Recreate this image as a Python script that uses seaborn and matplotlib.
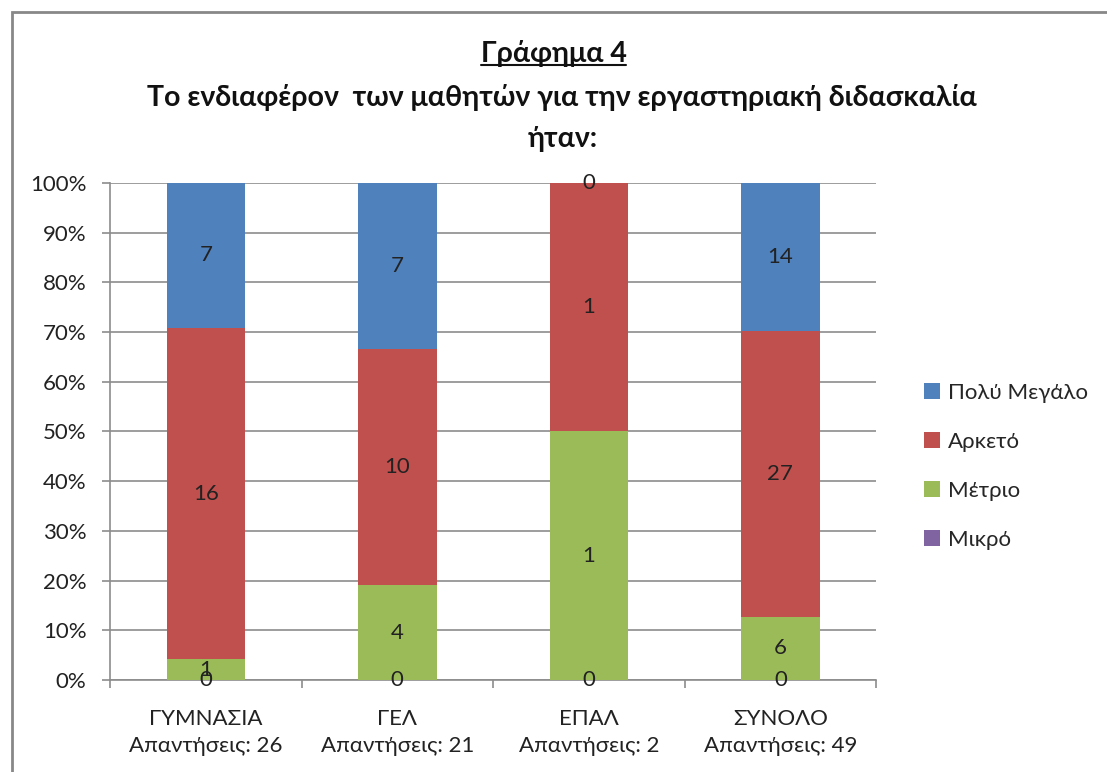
import numpy as np
import pandas as pd
import matplotlib
matplotlib.use("Agg")
import matplotlib.pyplot as plt
import seaborn as sns
from matplotlib.patches import Rectangle, Patch
from matplotlib.lines import Line2D
from matplotlib.ticker import FixedLocator, PercentFormatter

# data
categories = ["ΓΥΜΝΑΣΙΑ", "ΓΕΛ", "ΕΠΑΛ", "ΣΥΝΟΛΟ"]
responses = [26, 21, 2, 49]
levels = ["Μικρό", "Μέτριο", "Αρκετό", "Πολύ Μεγάλο"]
mikro = [0, 0, 0, 0]
metrio = [1, 4, 1, 6]
arketo = [16, 10, 1, 27]
poly = [7, 7, 0, 14]

colors = {"Πολύ Μεγάλο": "#4F81BD", "Αρκετό": "#C0504D",
          "Μέτριο": "#9BBB59", "Μικρό": "#8064A2"}

sns.set_theme(style="white")
plt.rcParams["font.family"] = ["Lato", "DejaVu Sans"]

counts = pd.DataFrame({"Μικρό": mikro, "Μέτριο": metrio,
                       "Αρκετό": arketo, "Πολύ Μεγάλο": poly},
                      index=categories)
totals = counts.sum(axis=1)
pct = counts.div(totals, axis=0) * 100
cum = pct.cumsum(axis=1)
low = cum - pct

fig = plt.figure(figsize=(11.07, 7.72), dpi=100)
ax = fig.add_axes([0.0994, 0.1192, 0.692, 0.644])

# stacked bars: draw cumulative heights from the top layer down
for lev in reversed(levels):
    d = pd.DataFrame({"cat": categories, "val": cum[lev].values})
    sns.barplot(data=d, x="cat", y="val", color=colors[lev], width=0.41,
                saturation=1, edgecolor="none", linewidth=0, ax=ax, zorder=3)

# data labels in the middle of each segment
for i, cat in enumerate(categories):
    for lev in levels:
        y = low.loc[cat, lev] + pct.loc[cat, lev] / 2
        ax.text(i, y, str(counts.loc[cat, lev]), ha="center", va="center",
                fontsize=16, color="#222222", zorder=5)

ax.set_ylim(0, 100)
ax.set_xlim(-0.5, len(categories) - 0.5)
ax.yaxis.set_major_locator(FixedLocator(np.arange(0, 101, 10)))
ax.yaxis.set_major_formatter(PercentFormatter(decimals=0))
ax.grid(axis="y", color="#8C8C8C", linewidth=1.2, zorder=0)
ax.set_axisbelow(True)
ax.set_xlabel("")
ax.set_ylabel("")
ax.set_xticks(range(len(categories)))
ax.set_xticklabels([f"{c}\nΑπαντήσεις: {n}" for c, n in zip(categories, responses)],
                   fontsize=16, linespacing=1.4)
ax.tick_params(axis="x", length=0, pad=21, colors="#222222")
ax.xaxis.set_minor_locator(FixedLocator(np.arange(-0.5, len(categories), 1)))
ax.tick_params(axis="x", which="minor", bottom=True, length=6, width=1.2,
               color="#8C8C8C", direction="out")
ax.tick_params(axis="y", left=True, length=6, width=1.2, color="#8C8C8C",
               labelsize=16, labelcolor="#222222", pad=11)
for s in ["top", "right"]:
    ax.spines[s].set_visible(False)
for s in ["left", "bottom"]:
    ax.spines[s].set_color("#8C8C8C")
    ax.spines[s].set_linewidth(1.2)

handles = [Patch(facecolor=colors[l], edgecolor="none") for l in reversed(levels)]
fig.legend(handles, list(reversed(levels)), loc="upper left",
           bbox_to_anchor=(0.817, 0.53), frameon=False, fontsize=16,
           handlelength=0.7, handleheight=0.7, handletextpad=0.35,
           labelspacing=1.3)

# titles
t1 = fig.text(0.5, 0.931, "Γράφημα 4", ha="center", va="center",
              fontsize=20.5, fontweight="bold", color="#111111")
fig.text(0.508, 0.874, "Το ενδιαφέρον  των μαθητών για την εργαστηριακή διδασκαλία",
         ha="center", va="center", fontsize=20.5, fontweight="bold", color="#111111")
fig.text(0.508, 0.820, "ήταν:", ha="center", va="center",
         fontsize=20.5, fontweight="bold", color="#111111")

fig.canvas.draw()
bb = t1.get_window_extent().transformed(fig.transFigure.inverted())
fig.add_artist(Line2D([bb.x0, bb.x1], [bb.y0 + 0.002, bb.y0 + 0.002],
                      color="#111111", linewidth=1.5, transform=fig.transFigure))

# chart frame
fig.patches.append(Rectangle((12 / 1107, -0.05), 1.2, 0.05 + 1 - 12 / 772,
                             transform=fig.transFigure, fill=False,
                             edgecolor="#888888", linewidth=2))

fig.savefig("out.png", dpi=100)
